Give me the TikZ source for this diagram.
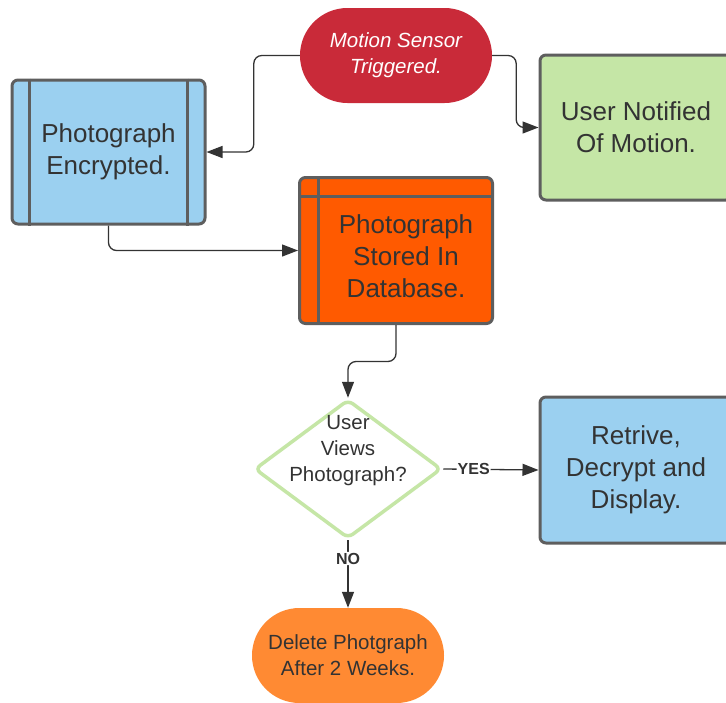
\documentclass[tikz,border=0pt]{standalone}
\usepackage{fontspec}
\setmainfont{Liberation Sans}
\usetikzlibrary{shapes.geometric,arrows.meta,calc}
\definecolor{cred}{RGB}{201,42,57}
\definecolor{cblue}{RGB}{155,208,240}
\definecolor{cgreen}{RGB}{197,230,166}
\definecolor{corred}{RGB}{255,90,0}
\definecolor{corange}{RGB}{255,138,51}
\definecolor{cborder}{RGB}{94,94,94}
\definecolor{ctext}{RGB}{51,51,51}
\begin{document}
\begin{tikzpicture}[x=1pt,y=-1pt,
  bigtxt/.style={font=\fontsize{26}{32}\selectfont, text=ctext, align=center},
  midtxt/.style={font=\fontsize{20.5}{26}\selectfont, text=ctext, align=center},
  boxstyle/.style={draw=cborder, line width=3pt, rounded corners=6pt, inner sep=0pt},
  pill/.style={rounded corners=47.5pt, minimum width=192pt, minimum height=95pt, inner sep=0pt},
  conn/.style={draw=ctext, line width=1.3pt, rounded corners=8pt, -{Triangle[length=16pt,width=12pt]}},
  lbl/.style={font=\fontsize{16}{18}\selectfont\bfseries, text=ctext, fill=white, inner sep=1pt}
]
\useasboundingbox (0,0) rectangle (726,702);
\clip (0,0) rectangle (726,702);
\fill[white] (0,0) rectangle (726,702);

% nodes
\node[pill, fill=cred, text=white, align=center, font=\fontsize{20.5}{26}\selectfont\itshape] (motion) at (396,55.5) {Motion Sensor\\Triggered.};
\node[boxstyle, fill=cblue, minimum width=193pt, minimum height=144pt, bigtxt] (enc) at (108.5,152) {Photograph\\Encrypted.};
\draw[cborder, line width=3pt] ($(enc.north west)+(19,0)$) -- ($(enc.south west)+(19,0)$);
\draw[cborder, line width=3pt] ($(enc.north east)+(-19,0)$) -- ($(enc.south east)+(-19,0)$);
\node[boxstyle, fill=cgreen, minimum width=192pt, minimum height=145pt, bigtxt] (notif) at (636,127.5) {User Notified\\Of Motion.};
\node[boxstyle, fill=corred, minimum width=193pt, minimum height=146pt] (stored) at (396,250.5) {};
\draw[cborder, line width=3pt] ($(stored.north west)+(20,0)$) -- ($(stored.south west)+(20,0)$);
\draw[cborder, line width=3pt] ($(stored.north west)+(0,20)$) -- ($(stored.north east)+(0,20)$);
\node[bigtxt] (storedtxt) at (406,256) {Photograph\\Stored In\\Database.};
\node[diamond, draw=cgreen, fill=white, line width=3.5pt, rounded corners=6pt, minimum width=187pt, minimum height=139pt, inner sep=0pt] (dec) at (348,469) {};
\node[midtxt] (dectxt) at (348,451) {User\\Views\\Photograph?};
\node[boxstyle, fill=cblue, minimum width=192pt, minimum height=146pt, bigtxt] (retr) at (636,470) {Retrive,\\Decrypt and\\Display.};
\node[pill, fill=corange, midtxt] (del) at (348,655.5) {Delete Photgraph\\After 2 Weeks.};

% connectors
\draw[conn] (motion.west) -- ++(-46,0) |- (enc.east);
\draw[conn] (motion.east) -- ++(24,0) |- (notif.west);
\draw[conn] (enc.south) |- (stored.west);
\draw[conn] (stored.south) -- ++(0,36.5) -| (dec.north);
\draw[conn] (dec.east) -- node[lbl, pos=0.32] (yes) {YES} (retr.west);
\draw[conn] (dec.south) -- node[lbl, pos=0.27] (no) {NO} (del.north);
\end{tikzpicture}
\end{document}
